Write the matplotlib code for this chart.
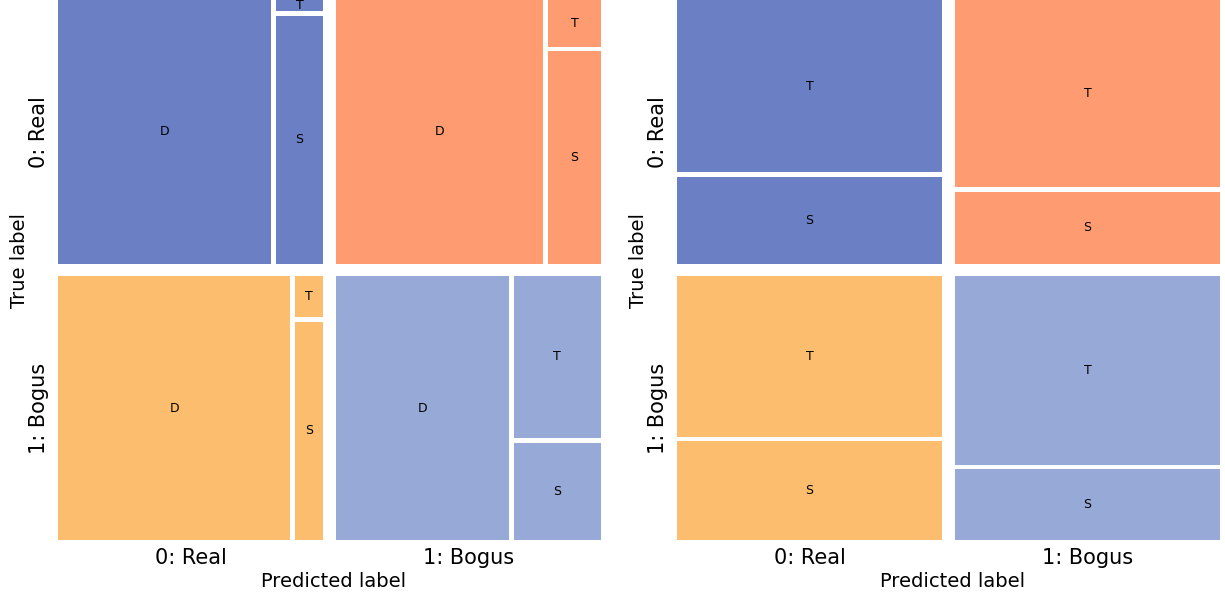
import matplotlib
matplotlib.use('Agg')
from matplotlib import pyplot as plt
from matplotlib.patches import Rectangle

class_names = ['0: Real', '1: Bogus']
# cell order: (true, pred) -> (0,0), (0,1), (1,0), (1,1)
cell_colors = ['#6b7fc4', '#fe9b71', '#fdbd6e', '#97a9d6']

# left panel: share of D across the cell, then share of T in the rest (T on top, S below)
left_d_frac = [0.813, 0.790, 0.885, 0.661]
left_t_frac = [0.050, 0.186, 0.163, 0.621]

# right panel: share of T (top), S takes the rest
right_t_frac = [0.663, 0.720, 0.617, 0.723]

gap_out = 0.047
gap_in = 0.018


def cell_box(k):
    r, c = divmod(k, 2)
    w = (2 - gap_out) / 2
    h = (2 - gap_out) / 2
    return c * (w + gap_out), r * (h + gap_out), w, h


def add_rect(ax, x, y, w, h, color, label):
    ax.add_patch(Rectangle((x, y), w, h, facecolor=color, edgecolor='none'))
    ax.text(x + w / 2, y + h / 2, label, ha='center', va='center', fontsize=9, clip_on=True)


def style_axes(ax):
    ax.set_xlim(0, 2)
    ax.set_ylim(2, 0)
    centers = [(2 - gap_out) / 4, 2 - (2 - gap_out) / 4]
    ax.set_xticks(centers)
    ax.set_xticklabels(class_names, fontsize=15)
    ax.set_yticks(centers)
    ax.set_yticklabels(class_names, fontsize=15, rotation=90, va='center')
    ax.tick_params(axis='x', length=0, pad=5.5)
    ax.tick_params(axis='y', length=0, pad=6.5)
    for s in ax.spines.values():
        s.set_visible(False)
    ax.set_xlabel('Predicted label', fontsize=14, labelpad=3)
    ax.set_ylabel('True label', fontsize=14, labelpad=0)
    ax.xaxis.label.set_x(0.507)
    ax.yaxis.label.set_y(0.517)


fig = plt.figure(figsize=(12.25, 5.96), dpi=100)
ax1 = fig.add_axes([58 / 1225, 56 / 596, 543 / 1225, 540 / 596])
ax2 = fig.add_axes([677 / 1225, 56 / 596, 543 / 1225, 540 / 596])

# left panel: D | (T over S)
for k in range(4):
    x0, y0, w, h = cell_box(k)
    col = cell_colors[k]
    dw = left_d_frac[k] * w
    add_rect(ax1, x0, y0, dw - gap_in / 2, h, col, 'D')
    cx = x0 + dw + gap_in / 2
    cw = x0 + w - cx
    th = left_t_frac[k] * h
    add_rect(ax1, cx, y0, cw, th - gap_in / 2, col, 'T')
    add_rect(ax1, cx, y0 + th + gap_in / 2, cw, h - th - gap_in / 2, col, 'S')

# right panel: T over S
for k in range(4):
    x0, y0, w, h = cell_box(k)
    col = cell_colors[k]
    th = right_t_frac[k] * h
    add_rect(ax2, x0, y0, w, th - gap_in / 2, col, 'T')
    add_rect(ax2, x0, y0 + th + gap_in / 2, w, h - th - gap_in / 2, col, 'S')

style_axes(ax1)
style_axes(ax2)

plt.savefig('out.png', dpi=100)
